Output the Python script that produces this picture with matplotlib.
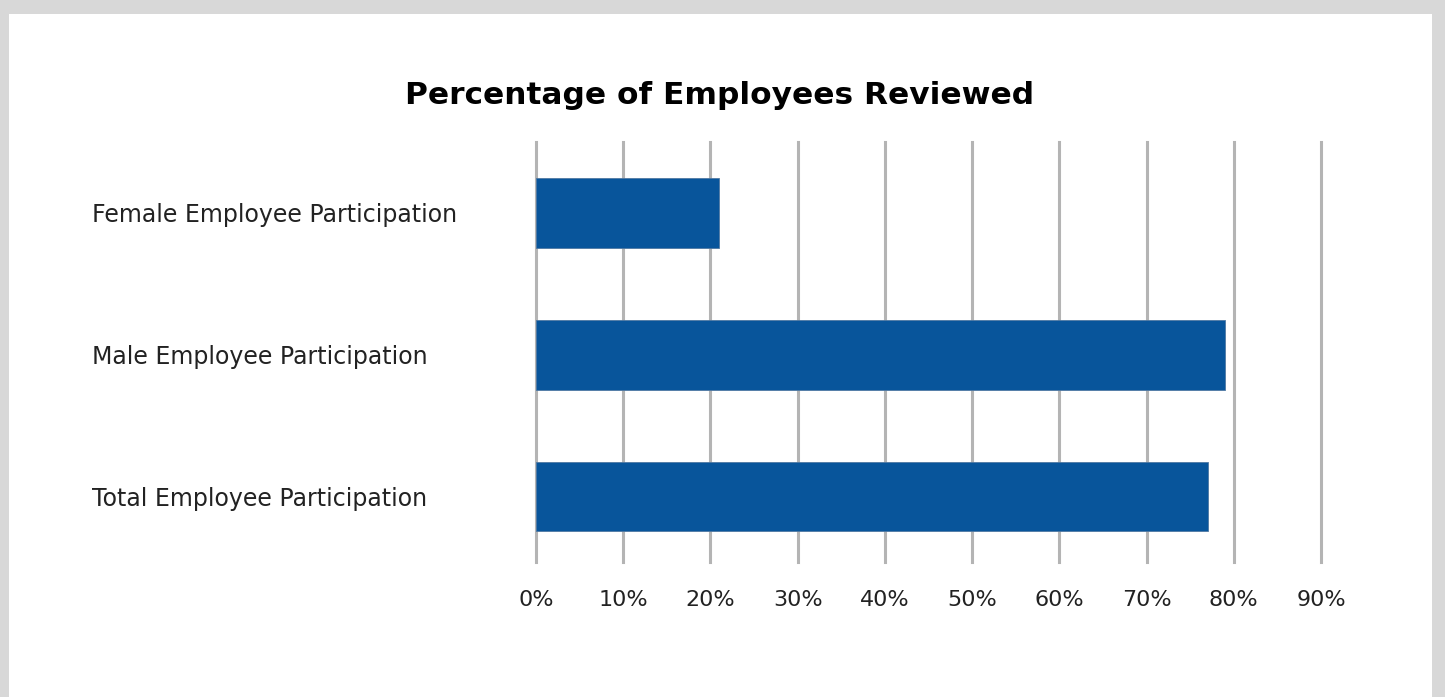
import matplotlib
matplotlib.use("Agg")
import matplotlib.pyplot as plt
import matplotlib.patches as patches
from matplotlib.ticker import FuncFormatter

# data, bottom to top
categories = [
    "Total Employee Participation",
    "Male Employee Participation",
    "Female Employee Participation",
]
values = [77, 79, 21]
xticks = [0, 10, 20, 30, 40, 50, 60, 70, 80, 90]

BAR_COLOR = "#08559b"
GRID_COLOR = "#b4b4b4"

W, H = 1445, 697
fig = plt.figure(figsize=(W / 100, H / 100), dpi=100)
fig.patch.set_facecolor("#d8d8d8")

# white card with grey frame (kept behind the axes)
fig.patches.append(
    patches.Rectangle(
        (9 / W, 0), (1432 - 9) / W, (H - 14) / H,
        transform=fig.transFigure, facecolor="white", edgecolor="none", zorder=-10,
    )
)

ax = fig.add_axes([536 / W, 1 - 562 / H, (1321 - 536) / W, (562 - 142) / H])
ax.set_facecolor("none")
ax.set_zorder(1)

ax.barh(range(len(categories)), values, height=0.49, color=BAR_COLOR,
        edgecolor="#4f79a3", linewidth=0.6, zorder=3)

ax.set_xlim(0, 90)
ax.set_ylim(-0.46, 2.5)
ax.set_xticks(xticks)
ax.xaxis.set_major_formatter(FuncFormatter(lambda v, p: f"{v:.0f}%"))
ax.set_yticks(range(len(categories)))
ax.set_yticklabels(categories)

ax.grid(axis="x", color=GRID_COLOR, linewidth=2.2, zorder=0)
ax.set_axisbelow(True)
for gl in ax.get_xgridlines():
    gl.set_clip_on(False)
for s in ax.spines.values():
    s.set_visible(False)

ax.tick_params(axis="x", length=0, pad=20, labelsize=16, labelcolor="#222222")
ax.tick_params(axis="y", length=0, pad=320, labelsize=17, labelcolor="#222222")
for lbl in ax.get_yticklabels():
    lbl.set_horizontalalignment("left")

fig.text(720 / W, 1 - 96 / H, "Percentage of Employees Reviewed",
         ha="center", va="center", fontsize=22.5, fontweight="heavy", color="black")

fig.savefig("out.png", dpi=100, facecolor=fig.get_facecolor())
